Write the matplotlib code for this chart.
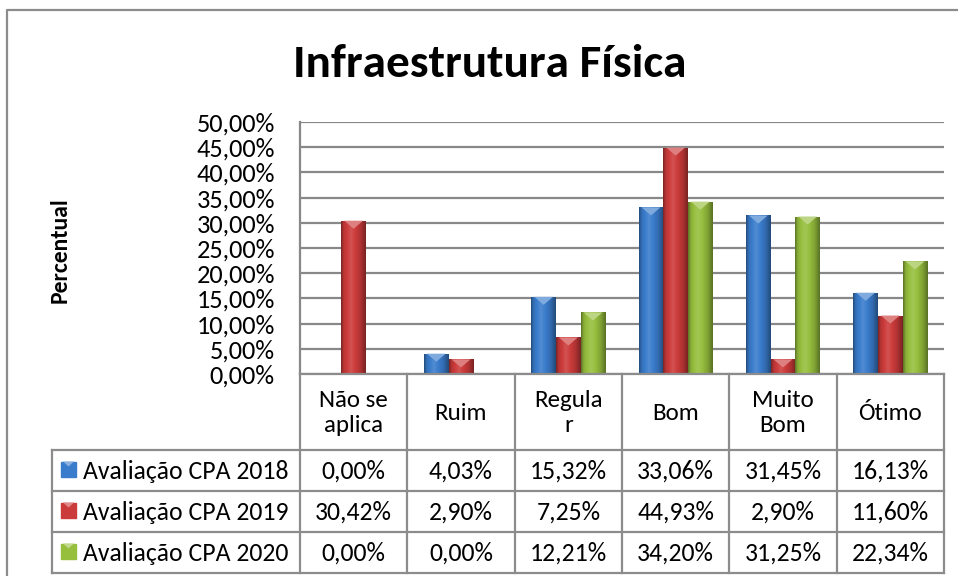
import numpy as np
import matplotlib
matplotlib.use("Agg")
import matplotlib.pyplot as plt
from matplotlib import font_manager
from matplotlib.patches import Rectangle, Polygon
from matplotlib.colors import to_rgb

categories = ["Não se\naplica", "Ruim", "Regula\nr", "Bom", "Muito\nBom", "Ótimo"]
series_names = ["Avaliação CPA 2018", "Avaliação CPA 2019", "Avaliação CPA 2020"]
cpa_2018 = [0.00, 4.03, 15.32, 33.06, 31.45, 16.13]
cpa_2019 = [30.42, 2.90, 7.25, 44.93, 2.90, 11.60]
cpa_2020 = [0.00, 0.00, 12.21, 34.20, 31.25, 22.34]
colors = ["#3a7ccc", "#cc3b3b", "#97bf3e"]
yticks = [0, 5, 10, 15, 20, 25, 30, 35, 40, 45, 50]

# pick a Calibri-like font if there is one
installed = {f.name for f in font_manager.fontManager.ttflist}
fam = "DejaVu Sans"
for cand in ["Carlito", "Calibri", "Liberation Sans Narrow", "Open Sans"]:
    if cand in installed:
        fam = cand
        break
plt.rcParams["font.family"] = [fam, "DejaVu Sans"]

W, H = 958, 576
fig = plt.figure(figsize=(W / 100, H / 100), dpi=100)

# plot area in pixels: x 300..944, y 122..374
ax = fig.add_axes([300 / W, 1 - 374 / H, 644 / W, 252 / H])
data = [cpa_2018, cpa_2019, cpa_2020]
x = np.arange(len(categories))
bw = 0.23


def shade(rgb, f):
    rgb = np.array(rgb)
    if f >= 1:
        return rgb + (1 - rgb) * (f - 1)
    return rgb * f


for k, vals in enumerate(data):
    bars = ax.bar(x + (k - 1) * bw, vals, bw, color=colors[k], zorder=3, linewidth=0)
    base = to_rgb(colors[k])
    prof = np.interp(np.linspace(0, 1, 40), [0, 0.1, 0.4, 0.8, 1], [0.62, 0.9, 1.12, 0.85, 0.6])
    grad = np.array([[shade(base, f) for f in prof]])
    for b in bars:
        h = b.get_height()
        if h <= 0:
            continue
        x0, w = b.get_x(), b.get_width()
        im = ax.imshow(grad, extent=[x0, x0 + w, 0, h], aspect="auto", zorder=3.5,
                       interpolation="bilinear")
        im.set_clip_path(b)
        d = min(1.6, h * 0.6)
        tri = Polygon([[x0 + w * 0.12, h], [x0 + w * 0.88, h], [x0 + w / 2, h - d]],
                      closed=True, color=shade(base, 1.35), lw=0, zorder=4)
        ax.add_patch(tri)

ax.set_xlim(-0.5, len(categories) - 0.5)
ax.set_ylim(0, 50)
ax.set_yticks(yticks)
ax.set_yticklabels([f"{v:.2f}%".replace(".", ",") for v in yticks], fontsize=19)
ax.tick_params(axis="y", length=0, pad=18)
ax.set_xticks([])
ax.yaxis.grid(True, color="#888888", lw=1.6, zorder=1)
for s in ["top", "right", "bottom"]:
    ax.spines[s].set_visible(False)
ax.spines["left"].set_color("#888888")
ax.spines["left"].set_linewidth(1.6)

# overlay in pixel coordinates for the data table, title and frame
ov = fig.add_axes([0, 0, 1, 1], zorder=5)
ov.set_xlim(0, W)
ov.set_ylim(H, 0)
ov.axis("off")
ov.patch.set_alpha(0)

fig.canvas.draw()
edges = [ax.transData.transform((i - 0.5, 0))[0] for i in range(len(categories) + 1)]

lc = "#8c8c8c"
lw = 1.6
row_y = [374, 450, 491, 532, 573]
# horizontal lines
ov.plot([edges[0], edges[-1]], [row_y[0]] * 2, color=lc, lw=lw)
for yy in row_y[1:]:
    ov.plot([52, edges[-1]], [yy, yy], color=lc, lw=lw)
# vertical lines
for ex in edges:
    ov.plot([ex, ex], [row_y[0], row_y[-1]], color=lc, lw=lw)
ov.plot([52, 52], [row_y[1], row_y[-1]], color=lc, lw=lw)

# header row
for i, cat in enumerate(categories):
    cx = (edges[i] + edges[i + 1]) / 2
    ov.text(cx, (row_y[0] + row_y[1]) / 2 + 1, cat, ha="center", va="center",
            fontsize=18, linespacing=1.25)

# value rows
for k, vals in enumerate(data):
    cy = (row_y[k + 1] + row_y[k + 2]) / 2
    base = to_rgb(colors[k])
    ov.add_patch(Rectangle((61, cy - 9), 15, 15, color=shade(base, 1.0)))
    ov.add_patch(Polygon([[63, cy - 9], [74, cy - 9], [68.5, cy - 4]], closed=True,
                         color=shade(base, 1.4), lw=0))
    ov.text(83, cy + 1, series_names[k], ha="left", va="center", fontsize=18.5)
    for i, v in enumerate(vals):
        cx = (edges[i] + edges[i + 1]) / 2
        ov.text(cx, cy + 1, f"{v:.2f}%".replace(".", ","), ha="center", va="center",
                fontsize=18.5)

# title and axis label
ov.text(490, 64, "Infraestrutura Física", ha="center", va="center",
        fontsize=34, fontweight="bold")
ov.text(60, 250, "Percentual", ha="center", va="center", rotation=90,
        fontsize=17, fontweight="bold")

# chart frame (right and bottom fall outside the picture)
ov.plot([7, 7, W + 5], [H + 5, 10, 10], color="#8c8c8c", lw=1.6)

fig.savefig("out.png", dpi=100)
